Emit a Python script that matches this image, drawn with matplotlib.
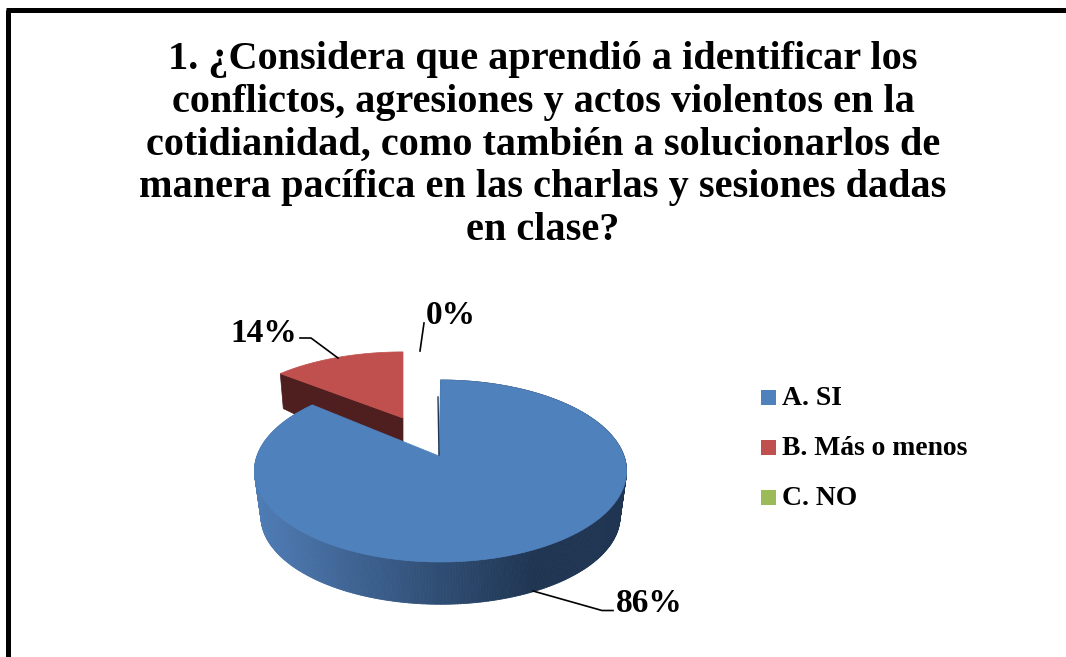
import numpy as np
import matplotlib
matplotlib.use("Agg")
import matplotlib.pyplot as plt
from matplotlib.collections import PolyCollection
from matplotlib.patches import Polygon, Rectangle

# datos del grafico
titulo = ("1. ¿Considera que aprendió a identificar los\n"
          "conflictos, agresiones y actos violentos en la\n"
          "cotidianidad, como también a solucionarlos de\n"
          "manera pacífica en las charlas y sesiones dadas\n"
          "en clase?")
categorias = ["A. SI", "B. Más o menos", "C. NO"]
valores = [86, 14, 0]
colores = ["#4f81bd", "#c0504d", "#9bbb59"]

FUENTE = "Liberation Serif"
K = 0.165  # perspectiva


# pasa radio/angulo del plato a pixeles, con la perspectiva
def proyecta(ang, cx, cy, a, b, esc=1.0):
    ang = np.radians(ang)
    x, z = np.sin(ang), np.cos(ang)
    d = 1 + K * z
    return cx + esc * a * x / d, cy - esc * b * z / d


fig = plt.figure(figsize=(10.66, 6.57), dpi=100)
ax = fig.add_axes([0, 0, 1, 1])
ax.set_xlim(0, 1066)
ax.set_ylim(657, 0)
ax.axis("off")

# marco (solo se ve arriba y a la izquierda)
ax.plot([7.5, 7.5], [657, 10], color="black", lw=3.6, solid_capstyle="butt")
ax.plot([5.5, 1066], [10, 10], color="black", lw=3.6, solid_capstyle="butt")

ax.text(543, 145, titulo, ha="center", va="center", fontsize=29, family=FUENTE,
        fontweight="bold", color="black", linespacing=1.2)

total = sum(valores)
fin_azul = 360 * valores[0] / total

# porcion roja (va detras)
cx, cy, a, b = 403, 418, 176, 77
th = np.linspace(fin_azul, 360, 60)
xs, ys = proyecta(th, cx, cy, a, b)
cara = list(zip(xs, ys)) + [(cx, cy)]
x0, y0 = xs[0], ys[0]
lado = [(x0, y0), (x0 + 3, y0 + 35), (cx, cy + 48), (cx, cy)]
ax.add_patch(Polygon(lado, closed=True, fc="#4e1f1e", ec="#4e1f1e", lw=0.5, zorder=2))
ax.add_patch(Polygon(cara, closed=True, fc=colores[1], ec=colores[1], lw=0.5, zorder=3))

# porcion azul
cx, cy, a, b = 440.5, 456, 183.5, 88.5
th = np.linspace(0, fin_azul, 400)
xs, ys = proyecta(th, cx, cy, a, b)
xb, yb = proyecta(th, cx, cy + 46, a, b, 0.965)
quads = []
tonos = []
claro = np.array(matplotlib.colors.to_rgb("#4f7cb5"))
oscuro = np.array(matplotlib.colors.to_rgb("#1f3552"))
for i in range(len(th) - 1):
    quads.append([(xs[i], ys[i]), (xs[i + 1], ys[i + 1]), (xb[i + 1], yb[i + 1]), (xb[i], yb[i])])
    t = np.clip((0.5 * (xs[i] + xs[i + 1]) - 255) / 280, 0, 1)
    tonos.append(claro + (oscuro - claro) * t)
ax.add_collection(PolyCollection(quads, facecolors=tonos, edgecolors=tonos, linewidths=0.6, zorder=4))
cara = [(cx - 1.5, cy)] + list(zip(xs, ys))
ax.add_patch(Polygon(cara, closed=True, fc=colores[0], ec=colores[0], lw=0.5, zorder=5))
ax.plot([438, 439], [397, 455], color="#1f3552", lw=1, zorder=6)

# etiquetas con su linea guia
etiquetas = [f"{v}%" for v in valores]
pos_etiq = [(649, 604), (264, 334), (451, 316)]
guias = [([533, 602, 613], [591, 610.5, 610.5]),
         ([338, 311, 300], [358, 338, 338]),
         ([420, 424], [351, 323])]
for txt, (x, y), (gx, gy) in zip(etiquetas, pos_etiq, guias):
    ax.plot(gx, gy, color="black", lw=1.2, zorder=7)
    ax.text(x, y, txt, ha="center", va="center", fontsize=24, family=FUENTE,
            fontweight="bold", color="black", zorder=8)

# leyenda
for i, (nombre, col) in enumerate(zip(categorias, colores)):
    y = 397.5 + 50 * i
    ax.add_patch(Rectangle((761, y - 7.5), 15, 15, fc=col, ec="none"))
    ax.text(782, y + 1, nombre, ha="left", va="center", fontsize=19.9, family=FUENTE,
            fontweight="bold", color="black")

fig.savefig("out.png", dpi=100)
